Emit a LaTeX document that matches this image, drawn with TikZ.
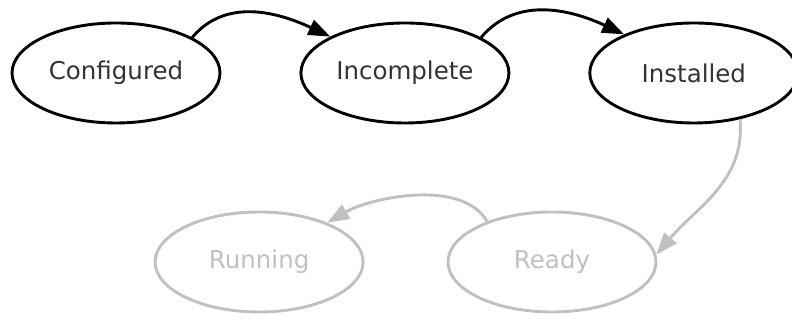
\documentclass[tikz,border=0pt]{standalone}
\usepackage{fontspec}
\setmainfont{DejaVu Sans}
\usetikzlibrary{shapes.geometric, arrows.meta, positioning}
\usepackage{xcolor}
\definecolor{stdark}{RGB}{0, 0, 0}
\definecolor{stpale}{RGB}{192, 192, 192}
\tikzset{
  statebox/.style={
    ellipse, draw=stdark, line width=2.9pt,
    minimum width=208pt, minimum height=100pt, inner sep=0pt,
    font=\fontsize{24.5}{28}\selectfont, text=stdark!80
  },
  palebox/.style={
    statebox, draw=stpale, text=stpale
  },
  arr/.style={-{Triangle[length=22pt, width=16pt]}, line width=2.9pt, color=stdark},
  parr/.style={-{Triangle[length=22pt, width=16pt]}, line width=2.9pt, color=stpale},
}

\begin{document}
\begin{tikzpicture}[x=1pt, y=1pt, node distance=78pt]
        \useasboundingbox (0,0) rectangle (792,320);
        \node[statebox] (cfg) at (116,247) {Configured};
        \node[statebox, right=of cfg] (inc) {Incomplete};
        \node[statebox, right=of inc] (ins) {Installed};
        \node[palebox] (rdy) at (552,58) {Ready};
        \node[palebox, left=82pt of rdy] (run) {Running};
        \draw[arr] (cfg.25) to[out=50, in=155] (inc.154);
        \draw[arr] (inc.25) to[out=50, in=155] (ins.151);
        \draw[parr] (ins.-45) to[out=-85, in=50] (rdy.4);
        \draw[parr] (rdy.148) to[out=120, in=30, looseness=0.8] (run.30);
      \end{tikzpicture}
\end{document}
